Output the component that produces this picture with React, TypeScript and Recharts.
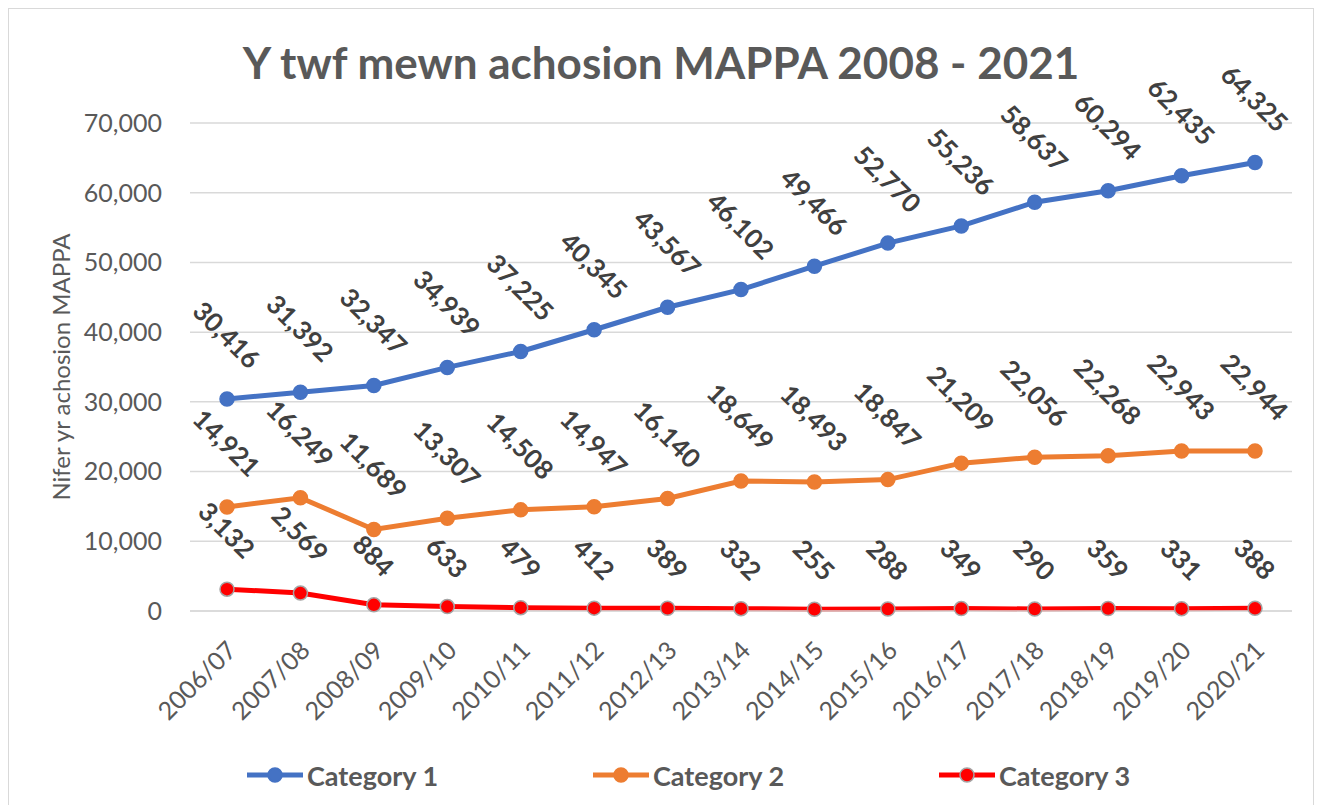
import React from "react";
import {
  LineChart,
  Line,
  XAxis,
  YAxis,
  CartesianGrid,
  Legend,
} from "recharts";

const years = [
  "2006/07", "2007/08", "2008/09", "2009/10", "2010/11", "2011/12", "2012/13",
  "2013/14", "2014/15", "2015/16", "2016/17", "2017/18", "2018/19", "2019/20", "2020/21",
];
const category1 = [
  30416, 31392, 32347, 34939, 37225, 40345, 43567, 46102, 49466, 52770, 55236,
  58637, 60294, 62435, 64325,
];
const category2 = [
  14921, 16249, 11689, 13307, 14508, 14947, 16140, 18649, 18493, 18847, 21209,
  22056, 22268, 22943, 22944,
];
const category3 = [
  3132, 2569, 884, 633, 479, 412, 389, 332, 255, 288, 349, 290, 359, 331, 388,
];
const yTicks = [0, 10000, 20000, 30000, 40000, 50000, 60000, 70000];

const data = years.map((year, i) => ({
  year,
  cat1: category1[i],
  cat2: category2[i],
  cat3: category3[i],
}));

const seriesList = [
  { key: "cat1", name: "Category 1", color: "#4472C4", dotStroke: "#4472C4" },
  { key: "cat2", name: "Category 2", color: "#ED7D31", dotStroke: "#ED7D31" },
  { key: "cat3", name: "Category 3", color: "#FF0000", dotStroke: "#A5A5A5" },
];

const FONT = "Lato, 'Open Sans', sans-serif";
const fmt = (v: number) => v.toLocaleString("en-US");

// label sits above the point, pushed up by half its rotated box
const DataLabel = (props: any) => {
  const { x, y, value } = props;
  if (x == null || y == null) return null;
  const s = fmt(value);
  const w = s.length * 14;
  const off = (w + 19) * 0.3536 + 28;
  const ly = y - off;
  return (
    <text
      x={x}
      y={ly}
      textAnchor="middle"
      dominantBaseline="central"
      transform={`rotate(45 ${x} ${ly})`}
      fontFamily={FONT}
      fontWeight="bold"
      fontSize={26}
      fill="#404040"
    >
      {s}
    </text>
  );
};

const XTick = (props: any) => {
  const { x, y, payload } = props;
  const ax = x + 4;
  const ay = y + 26;
  return (
    <text
      x={ax}
      y={ay}
      textAnchor="end"
      dominantBaseline="central"
      transform={`rotate(-45 ${ax} ${ay})`}
      fontFamily={FONT}
      fontSize={25}
      fill="#595959"
    >
      {payload.value}
    </text>
  );
};

const LegendContent = () => (
  <div
    style={{
      display: "flex",
      paddingLeft: 201,
      height: 40,
      alignItems: "center",
      fontFamily: FONT,
    }}
  >
    {seriesList.map((s) => (
      <div
        key={s.key}
        style={{ display: "flex", alignItems: "center", width: 346 }}
      >
        <svg width={60} height={20}>
          <line x1={2} y1={10} x2={58} y2={10} stroke={s.color} strokeWidth={5} />
          <circle cx={30} cy={10} r={7} fill={s.color} stroke={s.dotStroke} strokeWidth={1.5} />
        </svg>
        <span style={{ fontWeight: "bold", fontSize: 27, color: "#595959", marginLeft: 2 }}>
          {s.name}
        </span>
      </div>
    ))}
  </div>
);

const App: React.FC = () => {
  return (
    <div
      style={{
        position: "relative",
        width: 1304,
        height: 796,
        border: "1px solid #d9d9d9",
        background: "#fff",
      }}
    >
      <div
        style={{
          position: "absolute",
          top: 27,
          left: 0,
          width: "100%",
          textAlign: "center",
          fontFamily: FONT,
          fontWeight: "bold",
          fontSize: 44,
          lineHeight: "52px",
          color: "#595959",
        }}
      >
        Y twf mewn achosion MAPPA 2008 - 2021
      </div>
      <LineChart
        width={1304}
        height={796}
        data={data}
        margin={{ top: 114, right: 21, bottom: 10, left: 35 }}
      >
        <CartesianGrid vertical={false} stroke="#d9d9d9" strokeWidth={1.5} />
        <XAxis
          dataKey="year"
          height={144}
          interval={0}
          padding={{ left: 37, right: 37 }}
          tickLine={false}
          axisLine={{ stroke: "#d9d9d9", strokeWidth: 1.5 }}
          tick={<XTick />}
        />
        <YAxis
          width={146}
          domain={[0, 70000]}
          ticks={yTicks}
          tickFormatter={fmt}
          axisLine={false}
          tickLine={false}
          tickMargin={22}
          tick={{ fontFamily: FONT, fontSize: 25, fill: "#595959" }}
          label={(p: any) => {
            const vb = p.viewBox || {};
            const lx = (vb.x ?? 35) + 16;
            const ly = (vb.y ?? 114) + (vb.height ?? 488) / 2;
            return (
              <text
                x={lx}
                y={ly}
                textAnchor="middle"
                dominantBaseline="central"
                transform={`rotate(-90 ${lx} ${ly})`}
                fontFamily={FONT}
                fontSize={24}
                fill="#595959"
              >
                Nifer yr achosion MAPPA
              </text>
            );
          }}
        />
        <Legend verticalAlign="bottom" height={40} content={<LegendContent />} />
        {seriesList.map((s) => (
          <Line
            key={s.key}
            type="linear"
            dataKey={s.key}
            name={s.name}
            stroke={s.color}
            strokeWidth={5}
            dot={{ r: 7, fill: s.color, stroke: s.dotStroke, strokeWidth: 1.5 }}
            activeDot={false}
            isAnimationActive={false}
            label={<DataLabel />}
          />
        ))}
      </LineChart>
    </div>
  );
};

export default App;
